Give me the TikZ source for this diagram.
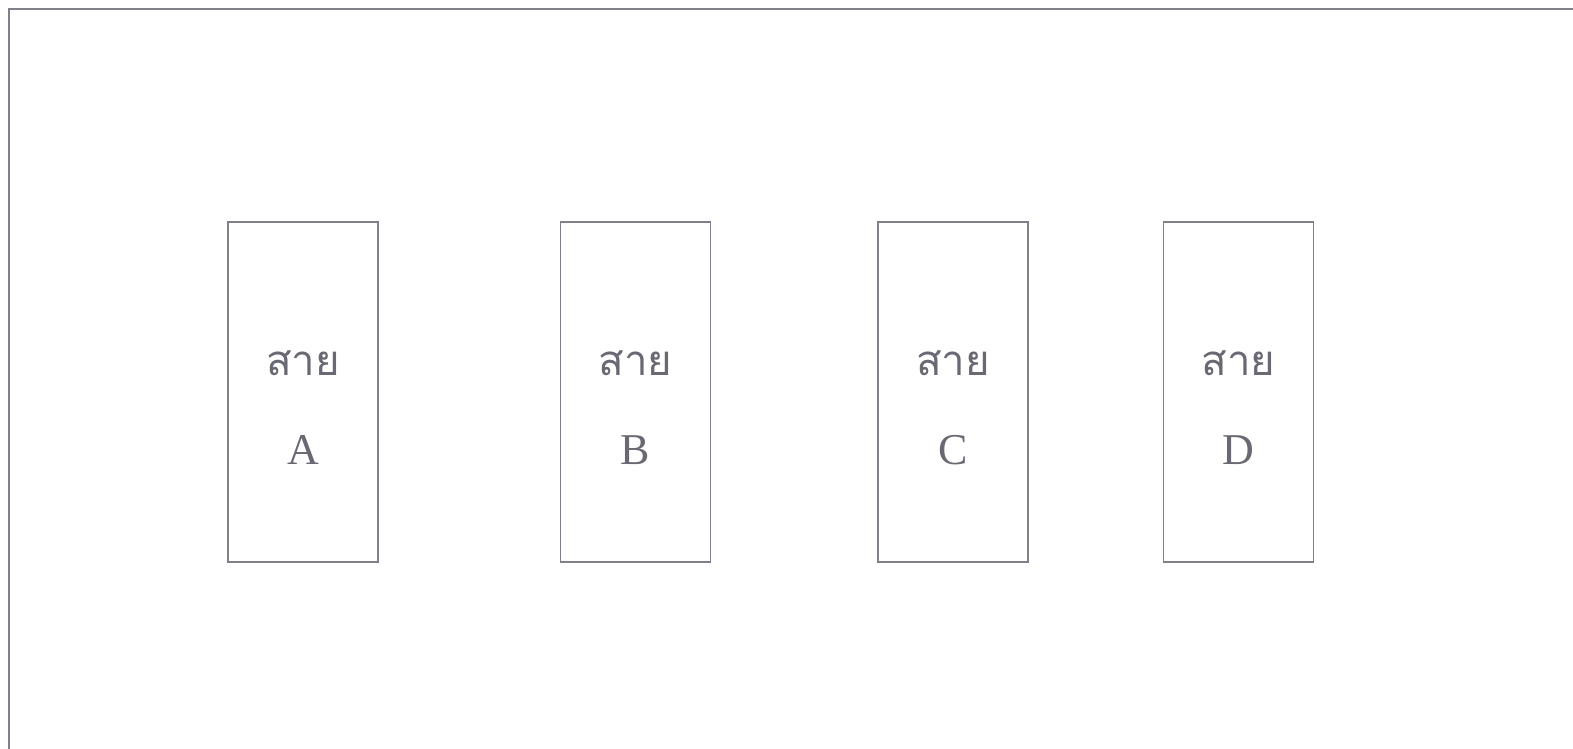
\documentclass[tikz,border=0pt]{standalone}
\usepackage{fontspec}
\setmainfont{Liberation Serif}
\newfontfamily\thaifont[Script=Thai]{Loma}
\definecolor{linegray}{RGB}{128,128,138}
\definecolor{textgray}{RGB}{105,105,115}
\tikzset{
  linebox/.style={draw=linegray, line width=1.6pt, minimum width=150pt, minimum height=340pt, inner sep=0pt},
  thailabel/.style={text=textgray, font=\thaifont\fontsize{42}{46}\selectfont},
  letterlabel/.style={text=textgray, font=\fontsize{44}{48}\selectfont}
}
\begin{document}
\begin{tikzpicture}[x=1pt,y=1pt]
%
	\useasboundingbox (0,0) rectangle (1573,749);
	\draw[linegray, line width=1.6pt] (9,0) -- (9,740) -- (1573,740);
%
	\foreach \name/\xpos in {A/303, B/635.5, C/953, D/1238.5} {
		\node[linebox] (line\name) at (\xpos,357) {};
		\node[thailabel] (word\name) at ([yshift=29pt]line\name.center) {สาย};
		\node[letterlabel] (letter\name) at ([yshift=-58pt]line\name.center) {\name};
	}
\end{tikzpicture}
\end{document}
